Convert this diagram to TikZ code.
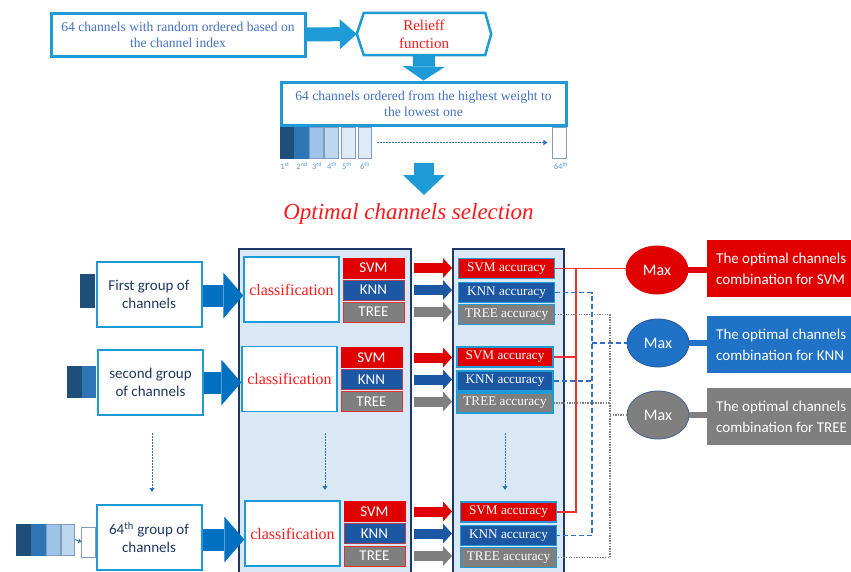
\documentclass[tikz,border=0pt]{standalone}
\usepackage{fontspec}
\setmainfont{Liberation Serif}
\newfontfamily\calib{Carlito}
\usetikzlibrary{arrows.meta,shapes.geometric,calc}
\newcommand{\myfs}[2]{\fontsize{#1}{#2}\selectfont}
\definecolor{lb}{HTML}{1E9BD7}
\definecolor{tblue}{HTML}{4472C4}
\definecolor{gtext}{HTML}{203864}
\definecolor{navy}{HTML}{1F3864}
\definecolor{colfill}{HTML}{DAE8F5}
\definecolor{dkA}{HTML}{1F4E79}
\definecolor{dkB}{HTML}{2E75B6}
\definecolor{ltC}{HTML}{9DC3E6}
\definecolor{ltD}{HTML}{BDD7EE}
\definecolor{ltE}{HTML}{DEEBF7}
\definecolor{barline}{HTML}{7F9CC0}
\definecolor{rd}{HTML}{E00000}
\definecolor{knnc}{HTML}{1C57A3}
\definecolor{knnedge}{HTML}{B04050}
\definecolor{treeedge}{HTML}{E03030}
\definecolor{maxb}{HTML}{1F72C6}
\definecolor{maxedge}{HTML}{2F5597}
\definecolor{gry}{HTML}{7F7F7F}
\definecolor{garrow}{HTML}{0070C0}
\definecolor{lbl}{HTML}{5B9BD5}
\definecolor{redtxt}{HTML}{FF1A1A}
\definecolor{redline}{HTML}{F03030}
\definecolor{blueline}{HTML}{2F6FC8}
\tikzset{
  topbox/.style={draw=lb, line width=3pt, fill=white, text=tblue, font=\myfs{13.6}{16}, align=center, inner sep=0pt},
  hexbox/.style={text=redtxt, font=\myfs{15}{18}, align=center, inner sep=0pt, minimum width=134pt, minimum height=42pt},
  grpbox/.style={draw=lb, line width=2pt, fill=white, text=gtext, font=\calib\myfs{15}{18}, align=center, inner sep=0pt, minimum width=105pt, minimum height=65pt},
  clsbox/.style={draw=lb, line width=1.5pt, fill=white, text=redtxt, font=\myfs{16}{18}, inner sep=0pt, minimum width=95pt, minimum height=65pt},
  algbox/.style={text=white, font=\calib\myfs{15}{16}, inner sep=0pt, minimum width=61pt, minimum height=20pt, line width=0.7pt},
  svmb/.style={algbox, fill=rd, draw=rd},
  knnb/.style={algbox, fill=knnc, draw=knnedge},
  treeb/.style={algbox, fill=gry, draw=treeedge},
  accbox/.style={draw=lb, line width=1.3pt, text=white, font=\myfs{13.2}{14}, inner sep=0pt, minimum width=96pt, minimum height=20pt},
  colbox/.style={draw=navy, fill=colfill, line width=1.8pt, inner sep=0pt, anchor=north west},
  maxe/.style={ellipse, inner sep=0pt, minimum width=62pt, minimum height=48pt, text=white, font=\calib\myfs{16}{18}, line width=0.8pt},
  resbox/.style={anchor=north west, inner sep=0pt, minimum width=160pt, minimum height=57pt},
  restext/.style={anchor=west, align=left, inner sep=0pt, text=white, font=\calib\myfs{15}{21}},
  chbar/.style={inner sep=0pt, minimum width=13.5pt, minimum height=31pt, draw=barline, line width=0.6pt},
  chlab/.style={anchor=base, text=lbl, font=\calib\myfs{8.5}{9}, inner sep=0pt},
  fatT/.style={draw=lb, line width=14pt, -{Triangle[width=30pt,length=17pt,line width=0pt]}},
  fatD/.style={draw=lb, line width=22pt, -{Triangle[width=42pt,length=14pt,line width=0pt]}},
  fatE/.style={draw=lb, line width=20pt, -{Triangle[width=42pt,length=20pt,line width=0pt]}},
  grpA/.style={draw=garrow, line width=22pt, -{Triangle[width=46pt,length=20pt,line width=0pt]}},
  smA/.style={line width=10pt, -{Triangle[width=20pt,length=9pt,line width=0pt]}},
  dotA/.style={draw=dkB, line width=0.8pt, dash pattern=on 1.5pt off 1.5pt, -{Triangle[width=5pt,length=4pt]}},
  redL/.style={draw=redline, line width=1.2pt},
  bluL/.style={draw=blueline, line width=1.8pt, dash pattern=on 5pt off 3pt},
  gryL/.style={draw=gry, line width=1.8pt, dash pattern=on 1.3pt off 1.3pt}
}
\begin{document}
\begin{tikzpicture}[x=1pt,y=-1pt]
\clip (0,0) rectangle (851,571);
\fill[white] (0,0) rectangle (851,571);
% ---------- top part ----------
\node[topbox, minimum width=254pt, minimum height=43pt] (in) at (178,34.5) {64 channels with random ordered based on\\the channel index};
\node[hexbox] (hex) at (424,34) {Relieff\\function};
\draw[lb, line width=2.5pt, line join=miter] (hex.west) -- ([xshift=7pt]hex.north west) -- ([xshift=-6pt]hex.north east) -- (hex.east) -- ([xshift=-6pt]hex.south east) -- ([xshift=7pt]hex.south west) -- cycle;
\node[topbox, minimum width=285pt, minimum height=43pt] (ord) at (423.5,103.5) {64 channels ordered from the highest weight to\\the lowest one};
\draw[fatT] (in.east) -- (hex.west);
\draw[fatD] (hex.south) -- (ord.north);
% channel bars
\node[chbar, fill=dkA, draw=dkA] (b1) at (287,142.5) {};
\node[chbar, fill=dkB, draw=dkB] (b2) at (301.5,142.5) {};
\node[chbar, fill=ltC] (b3) at (316.5,142.5) {};
\node[chbar, fill=ltD] (b4) at (331.5,142.5) {};
\node[chbar, fill=ltE] (b5) at (348.5,142.5) {};
\node[chbar, fill=ltE] (b6) at (365,142.5) {};
\node[chbar, fill=white] (b64) at (559.5,142.5) {};
\draw[dotA, shorten <=5pt, shorten >=5pt] (b6.east) -- (b64.west);
\node[chlab] (l1) at (285,169) {1\textsuperscript{st}};
\node[chlab] (l2) at (302,169) {2\textsuperscript{nd}};
\node[chlab] (l3) at (317,169) {3\textsuperscript{rd}};
\node[chlab] (l4) at (332,169) {4\textsuperscript{th}};
\node[chlab] (l5) at (347,169) {5\textsuperscript{th}};
\node[chlab] (l6) at (365,169) {6\textsuperscript{th}};
\node[chlab] (l64) at (561,169) {64\textsuperscript{th}};
\coordinate (a3s) at (424,163);
\coordinate (a3e) at (424,195);
\draw[fatE] (a3s) -- (a3e);
\node[anchor=base, text=redtxt, font=\itshape\myfs{23}{24}, inner sep=0pt] (opt) at (408.5,219) {Optimal channels selection};
% ---------- columns ----------
\node[colbox, minimum width=172pt, minimum height=340pt] (col1) at (238,248) {};
\node[colbox, minimum width=111pt, minimum height=340pt] (col2) at (452,248) {};
% ---------- row 1 ----------
\node[chbar, fill=dkA, draw=dkA, minimum height=33pt] (r1a) at (87.5,290.5) {};
\node[grpbox] (g1) at (149,294.5) {First group of\\channels};
\node[clsbox] (c1) at (291.5,289.5) {classification};
\node[svmb] (s1) at (373.5,268) {SVM};
\node[knnb] (k1) at (373.5,290) {KNN};
\node[treeb] (t1) at (373.5,312) {TREE};
\node[accbox, fill=rd] (sa1) at (506.5,268.5) {SVM accuracy};
\node[accbox, fill=knnc] (ka1) at (506.5,292.5) {KNN accuracy};
\node[accbox, fill=gry] (ta1) at (506.5,314.5) {TREE accuracy};
% ---------- row 2 ----------
\node[chbar, fill=dkA, draw=dkA] (r2a) at (74.5,381.5) {};
\node[chbar, fill=dkB, draw=dkB] (r2b) at (89,381.5) {};
\node[grpbox] (g2) at (150.5,382.5) {second group\\of channels};
\node[clsbox] (c2) at (289.5,379) {classification};
\node[svmb] (s2) at (371.5,357.5) {SVM};
\node[knnb] (k2) at (371.5,379.5) {KNN};
\node[treeb] (t2) at (371.5,401.5) {TREE};
\node[accbox, fill=rd] (sa2) at (505,357) {SVM accuracy};
\node[accbox, fill=knnc] (ka2) at (505,381) {KNN accuracy};
\node[accbox, fill=gry] (ta2) at (505,403) {TREE accuracy};
% ---------- row 3 ----------
\node[chbar, fill=dkA, draw=dkA] (r3a) at (23.5,539.5) {};
\node[chbar, fill=dkB, draw=dkB] (r3b) at (38.5,539.5) {};
\node[chbar, fill=ltC] (r3c) at (53.5,539.5) {};
\node[chbar, fill=ltD] (r3d) at (68,539.5) {};
\node[chbar, fill=white, minimum height=30pt] (r3w) at (88.5,542) {};
\draw[draw=dkB, line width=0.8pt, -{Triangle[width=4pt,length=3pt]}] (r3d.east) -- (r3w.west);
\node[grpbox] (g3) at (149,537.5) {64\textsuperscript{th} group of\\channels};
\node[clsbox] (c3) at (292.5,533.5) {classification};
\node[svmb] (s3) at (374.5,511.5) {SVM};
\node[knnb] (k3) at (374.5,533.5) {KNN};
\node[treeb] (t3) at (374.5,556) {TREE};
\node[accbox, fill=rd] (sa3) at (508.5,512) {SVM accuracy};
\node[accbox, fill=knnc] (ka3) at (508.5,535.5) {KNN accuracy};
\node[accbox, fill=gry] (ta3) at (508.5,557.5) {TREE accuracy};
% ---------- group arrows ----------
\draw[grpA] ([yshift=-1pt]g1.east) -- ([yshift=-1pt]g1.east -| c1.west);
\draw[grpA] (g2.east) -- (g2.east -| c2.west);
\draw[grpA] ([yshift=-2pt]g3.east) -- ([yshift=-2pt]g3.east -| c3.west);
% ---------- small arrows ----------
\foreach \a/\c in {s1/rd,k1/knnc,t1/gry,s2/rd,k2/knnc,t2/gry,s3/rd,k3/knnc,t3/gry}{
  \draw[smA, draw=\c] ([xshift=2pt]col1.east |- \a) -- (col2.west |- \a);
}
% ---------- vertical dotted arrows ----------
\coordinate (v1s) at (152,433); \coordinate (v1e) at (152,492);
\coordinate (v2s) at (325,433); \coordinate (v2e) at (325,490);
\coordinate (v3s) at (505,433); \coordinate (v3e) at (505,490);
\draw[dotA] (v1s) -- (v1e);
\draw[dotA] (v2s) -- (v2e);
\draw[dotA] (v3s) -- (v3e);
% ---------- max and results ----------
\node[maxe, fill=rd, draw=rd] (m1) at (657,270) {Max};
\node[maxe, fill=maxb, draw=maxedge] (m2) at (658,343) {Max};
\node[maxe, fill=gry, draw=maxedge!70!gry] (m3) at (658,415) {Max};
\node[resbox, fill=rd] (res1) at (707,240) {};
\node[resbox, fill=maxb] (res2) at (707,316) {};
\node[resbox, fill=gry] (res3) at (707,388) {};
\node[restext] (res1t) at ([xshift=9pt]res1.west) {The optimal channels\\combination for SVM};
\node[restext] (res2t) at ([xshift=9pt]res2.west) {The optimal channels\\combination for KNN};
\node[restext] (res3t) at ([xshift=9pt]res3.west) {The optimal channels\\combination for TREE};
\draw[rd, line width=6pt] (m1.east) -- (m1.east -| res1.west);
\draw[maxb, line width=6pt] (m2.east) -- (m2.east -| res2.west);
\draw[gry, line width=6pt] (m3.east) -- (m3.east -| res3.west);
% ---------- collecting lines ----------
\coordinate (vr) at (576,0);
\coordinate (vb) at (592,0);
\coordinate (vg) at (610,0);
\draw[redL] (sa1.east) -- (sa1.east -| m1.west);
\draw[redL] (sa3.east) -- (sa3.east -| vr) -- (sa1.east -| vr);
\draw[redL] (sa2.east) -- (sa2.east -| vr);
\draw[bluL] (ka1.east) -- (ka1.east -| vb) -- (ka3.east -| vb) -- (ka3.east);
\draw[bluL] (ka2.east) -- (ka2.east -| vb);
\draw[bluL] (vb |- m2.west) -- (m2.west);
\draw[gryL] (ta1.east) -- (ta1.east -| vg) -- (ta3.east -| vg) -- (ta3.east);
\draw[gryL] (ta2.east) -- (ta2.east -| vg);
\draw[gryL] (vg |- m3.west) -- (m3.west);
\end{tikzpicture}
\end{document}
